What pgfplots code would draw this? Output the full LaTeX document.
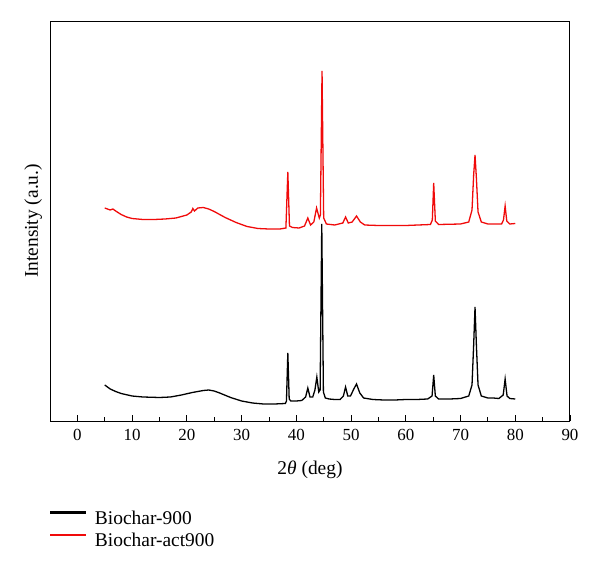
\documentclass[border=0pt]{standalone}
\usepackage{pgfplots}
\pgfplotsset{compat=1.18}
\usepackage{fontspec}
\setmainfont{Liberation Serif}

\definecolor{xrdred}{RGB}{240,10,10}

\begin{document}
\begin{tikzpicture}
\begin{axis}[
  at={(0,0)}, anchor=south west,
  scale only axis,
  width=520bp, height=400bp,
  xmin=-5, xmax=90, ymin=0, ymax=400,
  xtick={0,10,...,90},
  minor x tick num=1,
  ytick=\empty,
  tick align=inside,
  xtick pos=bottom,
  major tick length=6bp,
  minor tick length=4bp,
  axis line style={line width=1pt},
  every tick/.style={line width=0.8pt, black},
  /pgf/number format/assume math mode=true,
  ticklabel style={font=\fontsize{17}{20}\selectfont},
  xticklabel style={yshift=-5bp},
  xlabel={2\textit{θ} (deg)},
  ylabel={Intensity (a.u.)},
  label style={font=\fontsize{19.5}{22}\selectfont},
  xlabel style={at={(axis description cs:0.5,-0.1)}, anchor=north, inner sep=0pt},
  ylabel style={at={(axis description cs:-0.015,0.5)}, anchor=south, inner sep=0pt},
  legend style={draw=none, fill=none, at={(0,-0.22)}, anchor=north west,
    inner sep=0pt, row sep=4.5bp, font=\fontsize{19.5}{22}\selectfont,
    nodes={inner sep=1.5bp}},
  legend cell align=left,
]
\addplot[black, line width=1.3pt,
  legend image code/.code={\fill[black] (0bp,5bp) rectangle (35bp,6.5bp); \path (42bp,5bp);}]
  coordinates {
  (5,36) (5.5,34) (6,32) (7,29.5) (8,27.5) (10,25) (12,24) (15,23.5)
  (17,24) (19,26) (21,28.5) (23,30.5) (24,31) (25,30) (26,28) (28,23.5)
  (30,20) (32,18) (34,17) (36,17) (38,17.5) (38.2,20) (38.45,68) (38.7,22)
  (39,20) (40,20) (41,20.5) (41.7,24) (42.1,33) (42.5,24) (43,24) (43.4,31)
  (43.75,44) (44.1,29) (44.35,31) (44.65,197) (44.95,29) (45.3,23) (46,22)
  (47,21.5) (48,21.5) (48.6,25) (49,34) (49.4,25) (49.9,25) (50.5,32)
  (51,37) (51.6,28) (52.3,23) (54,21.5) (56,21) (58,21) (60,21.5) (62,21.5)
  (64,22) (64.8,25) (65.1,46) (65.4,25) (66,22) (68,22) (70,22.5) (71.5,25)
  (72.1,36) (72.4,76) (72.65,114) (72.9,76) (73.2,36) (73.8,25) (75,23)
  (76,23) (77,22.5) (77.8,26) (78.15,42) (78.5,25) (79,22.5) (80,22)
};
\addlegendentry{Biochar-900}
\addplot[xrdred, line width=1.3pt,
  legend image code/.code={\fill[xrdred] (0bp,5bp) rectangle (35bp,6.5bp); \path (42bp,5bp);}]
  coordinates {
  (5,213) (5.5,212) (6,211) (6.5,212) (7,210) (8,206.5) (9,204) (10,202.5)
  (12,201.5) (14,201.5) (16,202) (18,203) (20,206) (20.8,209) (21.1,212.5)
  (21.4,210) (22,213) (23,213.5) (24,212) (25,209.5) (27,203.5) (29,198.5)
  (31,194.5) (33,192.5) (35,192) (37,192) (38.1,193) (38.45,249) (38.75,195)
  (39.3,193.5) (40.5,193) (41.5,195) (42.1,203) (42.6,196) (43.2,199)
  (43.7,213) (44.2,203) (44.4,206) (44.7,350) (45,203) (45.5,197) (47,196)
  (48.5,198) (49,204) (49.5,198) (50.2,199) (51,205) (51.7,199) (52.5,196)
  (55,195.5) (60,195.5) (64.5,196.5) (64.85,201) (65.1,238) (65.4,200)
  (66,196.5) (70,197) (71.5,199) (72.1,211) (72.4,246) (72.65,266) (72.9,243)
  (73.2,209) (73.8,199) (75,197) (77.5,197) (77.85,201) (78.15,215)
  (78.45,200) (79,197) (80,197.5)
};
\addlegendentry{Biochar-act900}
\end{axis}
\pgfresetboundingbox
\path (-50bp,-152bp) rectangle (550bp,421bp);
\end{tikzpicture}
\end{document}
